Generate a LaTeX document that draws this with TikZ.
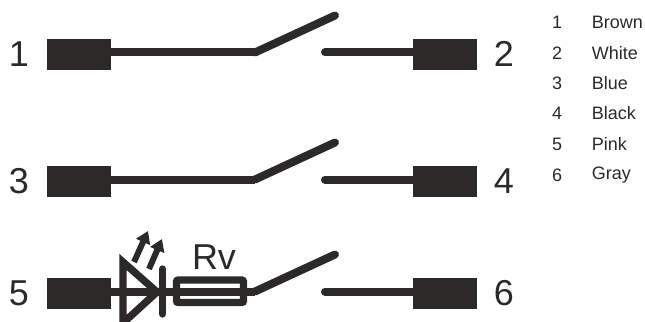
\documentclass[tikz,border=0pt]{standalone}
\usepackage{fontspec}
\setmainfont{Liberation Sans}
\usepackage{xcolor}
\usetikzlibrary{calc,arrows.meta}
\definecolor{ink}{HTML}{2B2A29}
\tikzset{
  term/.style={fill=ink, inner sep=0pt, minimum width=48pt, minimum height=23.5pt},
  wire/.style={draw=ink, line width=6pt, line cap=round, line join=miter},
  num/.style={text=ink, inner sep=0pt, font=\fontsize{27}{30}\selectfont},
  leg/.style={text=ink, inner sep=0pt, font=\fontsize{13.5}{16}\selectfont},
  ray/.style={draw=ink, line width=4.5pt, -{Triangle[length=9pt,width=11pt]}},
}

\begin{document}
\begin{tikzpicture}[x=0.75pt,y=-0.75pt]
  \useasboundingbox (0,0) rectangle (645,321);
  % terminals and switches, one row each
  \foreach \a/\b/\y in {1/2/54,3/4/181,5/6/293}{
    \node[term] (t\a) at (79,\y+0.5) {};
    \node[term] (t\b) at (445,\y+0.5) {};
    \node[num] (n\a) at (19,\y) {\a};
    \node[num] (n\b) at (504,\y) {\b};
    \coordinate (k\a) at (255,\y-1.5);
    \coordinate (s\a) at (335,\y-38.5);
    \coordinate (c\a) at (325,\y-1.5);
    \draw[wire] (k\a) -- (s\a);
    \draw[wire] (c\a) -- (c\a-|t\b.west);
  }
  \draw[wire, line cap=butt] (k1-|t1.east) -- (k1);
  \draw[wire, line cap=butt] (k3-|t3.east) -- (k3);
  \draw[wire, line cap=butt] (k5-|t5.east) -- (k5);
  % led
  \coordinate (la) at (123,262);
  \coordinate (lb) at (123,323);
  \coordinate (lc) at (157,292);
  \draw[wire, line width=5.5pt, line join=miter] (la) -- (lb) -- (lc) -- cycle;
  \draw[wire, line width=5.5pt] (162.5,269) -- (162.5,314);
  \coordinate (r1) at (134,262);
  \coordinate (r2) at (148,231);
  \coordinate (r3) at (149,269);
  \coordinate (r4) at (162,239);
  \draw[ray] (r1) -- (r2);
  \draw[ray] (r3) -- (r4);
  % fuse
  \draw[ink, line width=5.6pt, rounded corners=1.5pt] (176.5,280) rectangle (243.5,302.5);
  \node[num] (rv) at (214,257) {Rv};
  % legend
  \foreach \a/\c/\y in {1/Brown/22.5,2/White/53,3/Blue/83,4/Black/113,5/Pink/144,6/Gray/175}{
    \node[leg] (d\a) at (557,\y) {\a};
    \node[leg, anchor=west] (e\a) at (591.5,\y) {\c};
  }
\end{tikzpicture}
\end{document}
